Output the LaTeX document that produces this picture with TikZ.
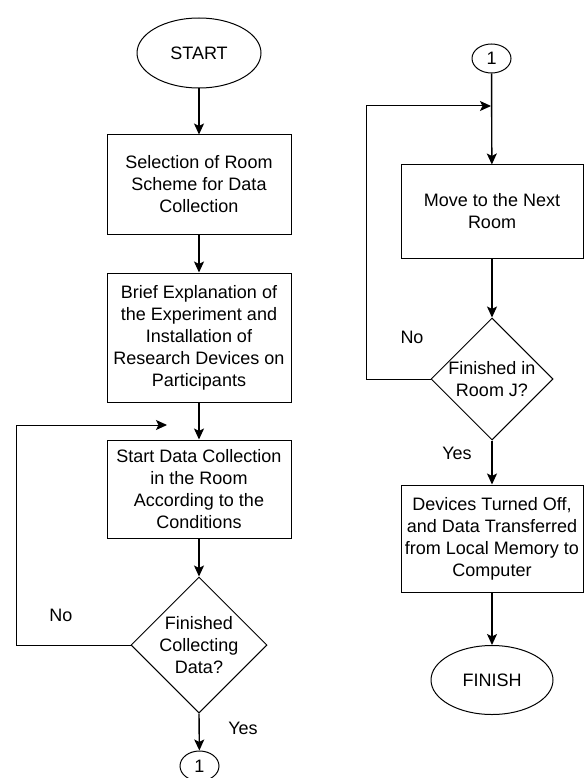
\documentclass[tikz,border=0pt]{standalone}
\usepackage{fontspec}
\setmainfont{Liberation Sans}
\usetikzlibrary{shapes.geometric,arrows.meta}
\begin{document}
\begin{tikzpicture}[x=1pt,y=-1pt,
  every node/.style={font=\fontsize{18}{22}\selectfont},
  proc/.style={draw,line width=1pt,rectangle,align=center,inner sep=0pt},
  term/.style={draw,line width=1pt,ellipse,inner sep=0pt},
  dec/.style={draw,line width=1pt,diamond,inner sep=0pt},
  arr/.style={line width=1.4pt,-{Stealth[length=11pt,width=10pt,inset=2.5pt]}},
  loopline/.style={line width=1pt,-{Stealth[length=11pt,width=10pt,inset=2.5pt]}},
  lbl/.style={inner sep=0pt}
]
\useasboundingbox (0,0) rectangle (585,778);

% left column
\node[term,minimum width=124pt,minimum height=70pt] (start) at (199,53) {START};
\node[proc,minimum width=184pt,minimum height=99pt] (b1) at (199,184.5)
  {Selection of Room\\Scheme for Data\\Collection};
\node[proc,minimum width=184pt,minimum height=129pt] (b2) at (199,337.5)
  {Brief Explanation of\\the Experiment and\\Installation of\\Research Devices on\\Participants};
\node[proc,minimum width=184pt,minimum height=98pt] (b3) at (199,489)
  {Start Data Collection\\in the Room\\According to the\\Conditions};
\node[dec,minimum width=136pt,minimum height=136pt] (d1) at (199,645) {};
\node[lbl,align=center] (d1t) at (d1.center) {Finished\\Collecting\\Data?};
\node[term,minimum width=39pt,minimum height=30pt] (c1) at (199.5,766) {1};

\coordinate (lc) at (16,425);
\coordinate (lend) at (167,425);

\draw[arr] (start) -- (b1);
\draw[arr] (b1) -- (b2);
\draw[arr] (b2) -- (b3);
\draw[arr] (b3) -- (d1.north);
\draw[arr] (d1.south) -- (c1);
\draw[loopline] (d1.west) -| (lc) -- (lend);

\node[lbl] (no1) at (61,615) {No};
\node[lbl] (yes1) at (243,728) {Yes};

% right column
\node[term,minimum width=39pt,minimum height=29pt] (c2) at (491.5,58.5) {1};
\node[proc,minimum width=182pt,minimum height=93pt] (r1) at (492,211.5)
  {Move to the Next\\Room};
\node[dec,minimum width=122pt,minimum height=122pt] (d2) at (492,379) {};
\node[lbl,align=center] (d2t) at (d2.center) {Finished in\\Room J?};
\node[proc,minimum width=182pt,minimum height=107pt] (r2) at (492,538.5)
  {Devices Turned Off,\\and Data Transferred\\from Local Memory to\\Computer};
\node[term,minimum width=122pt,minimum height=69pt] (fin) at (492,680) {FINISH};

\coordinate (rc) at (366,106);
\coordinate (rend) at (491,106);

\draw[arr] (c2) -- (r1);
\draw[arr] (r1) -- (d2.north);
\draw[arr] (d2.south) -- (r2);
\draw[arr] (r2) -- (fin);
\draw[loopline] (d2.west) -| (rc) -- (rend);

\node[lbl] (no2) at (412,337) {No};
\node[lbl] (yes2) at (457,453) {Yes};
\end{tikzpicture}
\end{document}
